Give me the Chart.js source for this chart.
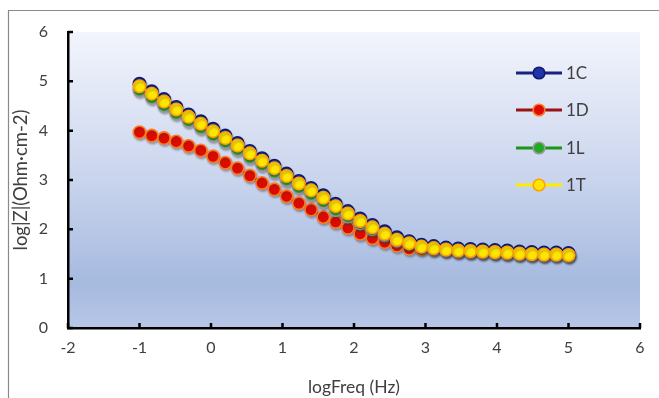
<!DOCTYPE html>
<html>
<head>
<meta charset="utf-8">
<script src="https://cdn.jsdelivr.net/npm/chart.js@4.4.1/dist/chart.umd.min.js"></script>
<style>
  html, body { margin: 0; padding: 0; background: #fff; }
</style>
</head>
<body>
<canvas id="chart" width="659" height="398"></canvas>
<script>
// logFreq (Hz) of each measured point
var logFreq = [-1.000, -0.829, -0.657, -0.486, -0.314, -0.143, 0.029, 0.200, 0.371, 0.543,
               0.714, 0.886, 1.057, 1.229, 1.400, 1.571, 1.743, 1.914, 2.086, 2.257,
               2.429, 2.600, 2.771, 2.943, 3.114, 3.286, 3.457, 3.629, 3.800, 3.971,
               4.143, 4.314, 4.486, 4.657, 4.829, 5.000];

// log|Z| values per sample
var z1C = [4.95, 4.80, 4.64, 4.48, 4.33, 4.19, 4.04, 3.90, 3.75, 3.59,
           3.44, 3.29, 3.13, 2.98, 2.84, 2.69, 2.52, 2.37, 2.22, 2.09,
           1.96, 1.84, 1.76, 1.69, 1.66, 1.63, 1.61, 1.60, 1.59, 1.58,
           1.57, 1.55, 1.54, 1.53, 1.53, 1.52];
var z1D = [3.97, 3.90, 3.85, 3.78, 3.69, 3.60, 3.48, 3.35, 3.24, 3.09,
           2.94, 2.81, 2.67, 2.53, 2.40, 2.25, 2.15, 2.03, 1.91, 1.82,
           1.74, 1.67, 1.61, 1.60, 1.59, 1.57, 1.55, 1.54, 1.53, 1.52,
           1.51, 1.50, 1.49, 1.48, 1.48, 1.47];
var z1L = [4.82, 4.67, 4.51, 4.35, 4.20, 4.06, 3.91, 3.77, 3.62, 3.46,
           3.31, 3.16, 3.00, 2.85, 2.71, 2.56, 2.39, 2.26, 2.12, 2.00,
           1.88, 1.77, 1.71, 1.64, 1.61, 1.58, 1.56, 1.55, 1.54, 1.53,
           1.52, 1.50, 1.49, 1.48, 1.48, 1.47];
var z1T = [4.90, 4.75, 4.59, 4.43, 4.28, 4.14, 3.99, 3.85, 3.70, 3.54,
           3.39, 3.24, 3.08, 2.93, 2.79, 2.64, 2.47, 2.32, 2.17, 2.04,
           1.91, 1.79, 1.72, 1.65, 1.62, 1.59, 1.57, 1.56, 1.55, 1.54,
           1.53, 1.51, 1.50, 1.49, 1.49, 1.48];

var seriesNames = ['1C', '1D', '1L', '1T'];
var xTicks = [-2, -1, 0, 1, 2, 3, 4, 5, 6];
var yTicks = [0, 1, 2, 3, 4, 5, 6];

var FONT = 'Lato, "Open Sans", sans-serif';
var TEXT = '#404040';

function pts(arr) {
    return logFreq.map(function (x, i) { return { x: x, y: arr[i] }; });
}

function makeSet(label, values, line, fill, edge, order) {
    return {
        label: label,
        data: pts(values),
        borderColor: line,
        borderWidth: 2,
        pointRadius: 6.2,
        pointBackgroundColor: fill,
        pointBorderColor: edge,
        pointBorderWidth: 1.6,
        showLine: true,
        order: order
    };
}

// frame and plot gradient
var backdrop = {
    id: 'backdrop',
    beforeDraw: function (chart) {
        var ctx = chart.ctx, a = chart.chartArea;
        ctx.save();
        ctx.fillStyle = '#fff';
        ctx.fillRect(0, 0, chart.width, chart.height);
        var g = ctx.createLinearGradient(0, a.top, 0, a.bottom);
        g.addColorStop(0, '#f3f5fc');
        g.addColorStop(0.5, '#c9d4ed');
        g.addColorStop(0.85, '#a6badf');
        g.addColorStop(1, '#b7c7e7');
        ctx.fillStyle = g;
        ctx.fillRect(a.left, a.top, a.right - a.left, a.bottom - a.top);
        ctx.strokeStyle = '#8a8a8a';
        ctx.lineWidth = 1.2;
        ctx.beginPath();
        ctx.moveTo(8.5, chart.height);
        ctx.lineTo(8.5, 10.5);
        ctx.lineTo(chart.width, 10.5);
        ctx.stroke();
        ctx.restore();
    }
};

// excel style soft shadow under markers
var markerShadow = {
    id: 'markerShadow',
    beforeDatasetDraw: function (chart) {
        var ctx = chart.ctx;
        ctx.save();
        ctx.shadowColor = 'rgba(60,60,60,0.35)';
        ctx.shadowOffsetX = 1;
        ctx.shadowOffsetY = 2;
        ctx.shadowBlur = 2;
    },
    afterDatasetDraw: function (chart) {
        chart.ctx.restore();
    }
};

// inward tick marks on both axes
var innerTicks = {
    id: 'innerTicks',
    afterDraw: function (chart) {
        var ctx = chart.ctx, a = chart.chartArea;
        var xs = chart.scales.x, ys = chart.scales.y;
        ctx.save();
        ctx.strokeStyle = '#000';
        ctx.lineWidth = 2.5;
        ctx.beginPath();
        xTicks.forEach(function (v) {
            var px = xs.getPixelForValue(v);
            ctx.moveTo(px, a.bottom);
            ctx.lineTo(px, a.bottom - 5);
        });
        yTicks.forEach(function (v) {
            var py = ys.getPixelForValue(v);
            ctx.moveTo(a.left, py);
            ctx.lineTo(a.left + 5, py);
        });
        ctx.stroke();
        ctx.restore();
    }
};

// legend sitting inside the plot, upper right
var innerLegend = {
    id: 'innerLegend',
    afterDraw: function (chart) {
        var ctx = chart.ctx;
        var rowY = [73, 110, 148, 185];
        ctx.save();
        chart.data.datasets.forEach(function (ds, i) {
            var y = rowY[i];
            ctx.strokeStyle = ds.borderColor;
            ctx.lineWidth = 3;
            ctx.beginPath();
            ctx.moveTo(516, y);
            ctx.lineTo(562, y);
            ctx.stroke();
            ctx.fillStyle = ds.pointBackgroundColor;
            ctx.strokeStyle = ds.pointBorderColor;
            ctx.lineWidth = 1.6;
            ctx.beginPath();
            ctx.arc(539, y, 5.8, 0, Math.PI * 2);
            ctx.fill();
            ctx.stroke();
            ctx.fillStyle = TEXT;
            ctx.font = '17px ' + FONT;
            ctx.textBaseline = 'middle';
            ctx.textAlign = 'left';
            ctx.fillText(ds.label, 566, y + 1);
        });
        ctx.restore();
    }
};

var ctx = document.getElementById('chart').getContext('2d');
var myChart = new Chart(ctx, {
    type: 'scatter',
    data: {
        datasets: [
            makeSet(seriesNames[0], z1C, '#17237c', '#2233aa', '#0d1b6e', 3),
            makeSet(seriesNames[1], z1D, '#9a1212', '#dd0a00', '#ff7a20', 2),
            makeSet(seriesNames[2], z1L, '#1a961a', '#22aa22', '#9a9a9a', 1),
            makeSet(seriesNames[3], z1T, '#ffeb00', '#ffe600', '#ffa200', 0)
        ]
    },
    options: {
        responsive: false,
        animation: false,
        clip: false,
        layout: {
            padding: { left: 0, right: 19, top: 32, bottom: 0 }
        },
        plugins: {
            legend: { display: false },
            tooltip: { enabled: false }
        },
        scales: {
            x: {
                type: 'linear',
                min: -2,
                max: 6,
                afterFit: function (scale) { scale.height = 70; },
                ticks: {
                    stepSize: 1,
                    padding: 10,
                    color: TEXT,
                    font: { family: FONT, size: 16 }
                },
                grid: { drawOnChartArea: false, drawTicks: false },
                border: { display: true, color: '#000', width: 2.5 },
                title: {
                    display: true,
                    text: 'logFreq (Hz)',
                    color: TEXT,
                    font: { family: FONT, size: 17.5 },
                    padding: { top: 2, bottom: 0 }
                }
            },
            y: {
                type: 'linear',
                min: 0,
                max: 6,
                afterFit: function (scale) { scale.width = 68; },
                ticks: {
                    stepSize: 1,
                    padding: 20,
                    color: TEXT,
                    font: { family: FONT, size: 16 }
                },
                grid: { drawOnChartArea: false, drawTicks: false },
                border: { display: true, color: '#000', width: 2.5 },
                title: {
                    display: true,
                    text: 'log|Z|(Ohm·cm-2)',
                    color: TEXT,
                    font: { family: FONT, size: 18.5 },
                    padding: { top: 10, bottom: 0 }
                }
            }
        }
    },
    plugins: [backdrop, markerShadow, innerTicks, innerLegend]
});
</script>
</body>
</html>
